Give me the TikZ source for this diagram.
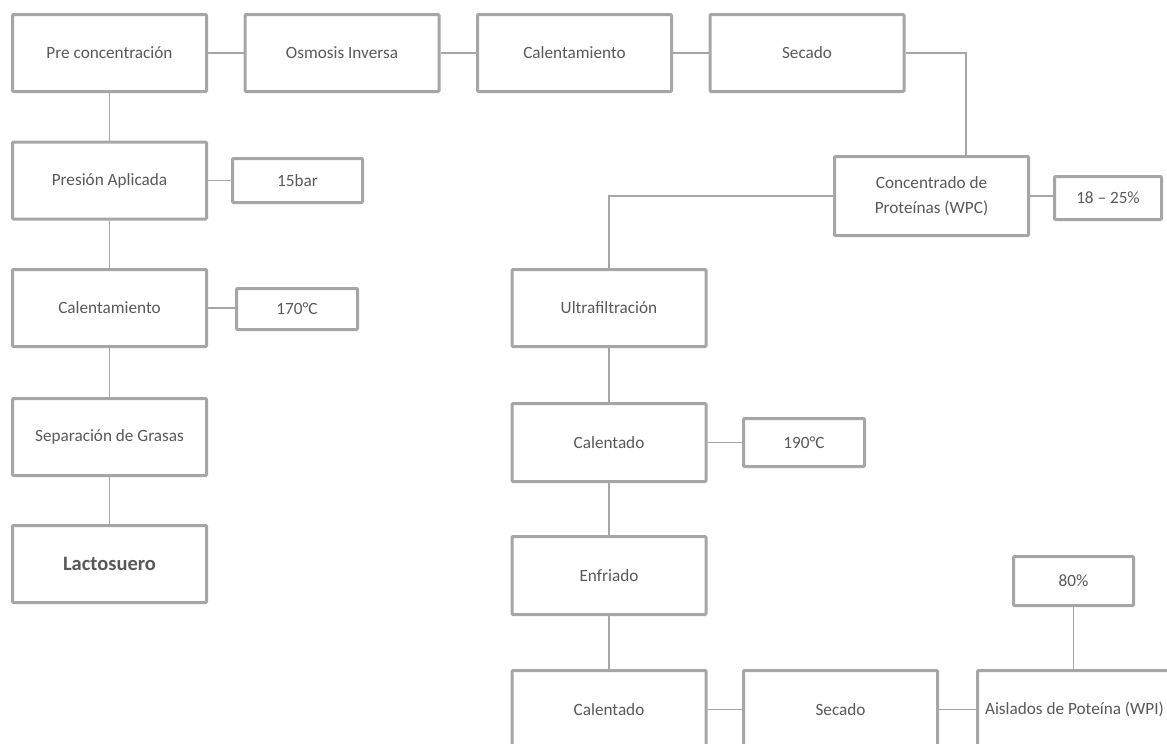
\documentclass[tikz,border=0pt]{standalone}
\usepackage{fontspec}
\setmainfont{Carlito}
\begin{document}
\definecolor{boxline}{HTML}{A6A6A6}
\definecolor{txt}{HTML}{595959}
\begin{tikzpicture}[x=1pt,y=1pt,
  stepbox/.style={draw=boxline, line width=3pt, rounded corners=1pt, fill=white,
    text=txt, font=\fontsize{17.2}{25}\selectfont, align=center,
    minimum width=194pt, minimum height=77pt, inner sep=0pt},
  valbox/.style={stepbox, minimum height=44pt},
  link/.style={draw=boxline, line width=1.3pt}]
\useasboundingbox (0,0) rectangle (1167,-744);
\clip (0,0) rectangle (1167,-744);

% left column
\node[stepbox] (pre) at (109.5,-53) {Pre concentración};
\node[stepbox] (pres) at (109.5,-180.5) {Presión Aplicada};
\node[stepbox] (calA) at (109.5,-308) {Calentamiento};
\node[stepbox] (sep) at (109.5,-437) {Separación de Grasas};
\node[stepbox, font=\fontsize{20.5}{24}\selectfont\bfseries] (lac) at (109.5,-564) {Lactosuero};
\node[valbox, minimum width=130pt] (bar) at (297.5,-180.5) {15bar};
\node[valbox, minimum width=121pt, minimum height=41pt] (tA) at (297,-309) {170°C};

% top row
\node[stepbox] (osm) at (342,-53) {Osmosis Inversa};
\node[stepbox] (calB) at (574.5,-53) {Calentamiento};
\node[stepbox] (secA) at (807,-53) {Secado};

% protein concentrate
\node[stepbox, minimum height=79pt] (wpc) at (931.5,-196) {Concentrado de\\Proteínas (WPC)};
\node[valbox, minimum width=107pt, minimum height=43pt] (pct) at (1108,-198) {18 – 25\%};

% right column
\node[stepbox] (ultra) at (609,-308) {Ultrafiltración};
\node[stepbox, minimum height=78pt] (calC) at (609,-442.5) {Calentado};
\node[valbox, minimum width=121pt, minimum height=48pt] (tB) at (804,-442.5) {190°C};
\node[stepbox, minimum height=78pt] (enf) at (609,-575.5) {Enfriado};

% bottom row
\node[stepbox, minimum height=78pt] (calD) at (609,-709.5) {Calentado};
\node[stepbox, minimum height=78pt] (secB) at (840.5,-709.5) {Secado};
\node[stepbox, minimum height=78pt] (wpi) at (1074.5,-709.5) {Aislados de Poteína (WPI)};
\node[valbox, minimum width=120pt, minimum height=49pt] (p80) at (1073.5,-581) {80\%};

% connectors
\draw[link] (pre) -- (osm);
\draw[link] (osm) -- (calB);
\draw[link] (calB) -- (secA);
\draw[link] (secA.east) -| ([xshift=34.5pt]wpc.north);
\draw[link] (wpc.east) -- (pct.west |- wpc.east);
\draw[link] (wpc.west) -| (ultra.north);
\draw[link] (pre) -- (pres);
\draw[link] (pres) -- (calA);
\draw[link] (calA) -- (sep);
\draw[link] (sep) -- (lac);
\draw[link] (pres) -- (bar);
\draw[link] (calA.east) -- (tA.west |- calA.east);
\draw[link] (ultra) -- (calC);
\draw[link] (calC) -- (enf);
\draw[link] (enf) -- (calD);
\draw[link] (calC) -- (tB);
\draw[link] (calD) -- (secB);
\draw[link] (secB) -- (wpi);
\draw[link] (p80.south) -- (p80.south |- wpi.north);
\end{tikzpicture}
\end{document}
